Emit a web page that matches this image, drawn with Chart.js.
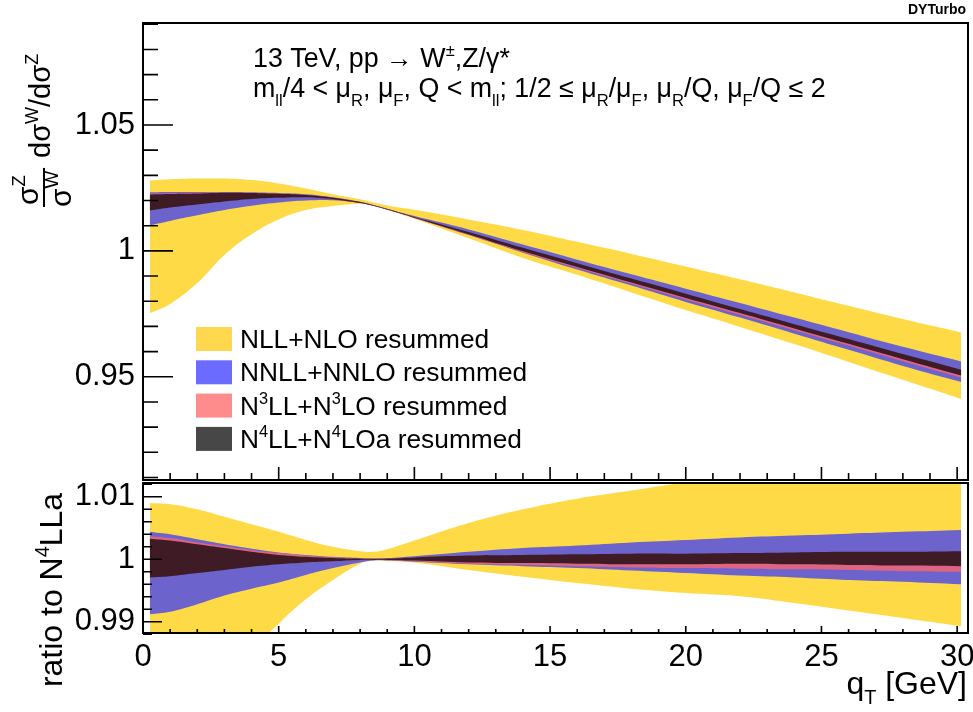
<!DOCTYPE html>
<html>
<head>
<meta charset="utf-8">
<script src="https://cdn.jsdelivr.net/npm/chart.js@4.4.1/dist/chart.umd.min.js"></script>
<style>
  html, body { margin: 0; padding: 0; background: #fff; }
  #wrap { position: relative; width: 973px; height: 712px; overflow: hidden; }
  #top { position: absolute; left: 0; top: 0; }
  #bot { position: absolute; left: 0; top: 480px; }
</style>
</head>
<body>
<div id="wrap">
  <canvas id="top" width="973" height="483"></canvas>
  <canvas id="bot" width="973" height="232"></canvas>
</div>
<script>
// ---- data ----
const qT = [0.25, 1, 2, 3, 4, 5, 6, 7, 8, 8.5, 9, 10, 12, 14, 16, 18, 20, 22, 24, 26, 28, 30.15];

// top panel: sigmaZ/sigmaW * dsigmaW/dsigmaZ, band edges
const nllHi  = [1.0279, 1.0284, 1.0287, 1.0287, 1.0281, 1.0268, 1.0248, 1.0225, 1.0205, 1.0192, 1.0180, 1.0163, 1.0125, 1.0083, 1.0036, 0.9988, 0.9938, 0.9887, 0.9835, 0.9782, 0.9729, 0.9676];
const nllLo  = [0.9752, 0.9789, 0.9872, 0.9984, 1.0066, 1.0125, 1.0162, 1.0178, 1.0187, 1.0180, 1.0162, 1.0128, 1.0050, 0.9972, 0.9905, 0.9835, 0.9765, 0.9698, 0.9630, 0.9559, 0.9488, 0.9412];
const nnllHi = [1.0233, 1.0234, 1.0234, 1.0234, 1.0233, 1.0230, 1.0225, 1.0213, 1.0195, 1.0182, 1.0167, 1.0138, 1.0085, 1.0025, 0.9965, 0.9907, 0.9850, 0.9793, 0.9735, 0.9677, 0.9619, 0.9561];
const nnllLo = [1.0102, 1.0119, 1.0141, 1.0162, 1.0179, 1.0192, 1.0200, 1.0201, 1.0190, 1.0178, 1.0163, 1.0131, 1.0063, 0.9993, 0.9926, 0.9862, 0.9797, 0.9735, 0.9671, 0.9607, 0.9543, 0.9479];
const n3llHi = [1.0227, 1.0229, 1.0231, 1.0232, 1.0231, 1.0228, 1.0222, 1.0211, 1.0194, 1.0181, 1.0166, 1.0134, 1.0072, 1.0008, 0.9946, 0.9885, 0.9824, 0.9763, 0.9703, 0.9643, 0.9583, 0.9520];
const n3llLo = [1.0165, 1.0175, 1.0186, 1.0197, 1.0207, 1.0212, 1.0213, 1.0205, 1.0190, 1.0179, 1.0164, 1.0131, 1.0064, 0.9995, 0.9932, 0.9869, 0.9807, 0.9746, 0.9685, 0.9624, 0.9562, 0.9497];
const n4llHi = [1.0224, 1.0226, 1.0228, 1.0231, 1.0230, 1.0227, 1.0222, 1.0211, 1.0194, 1.0181, 1.0166, 1.0135, 1.0075, 1.0012, 0.9951, 0.9890, 0.9830, 0.9769, 0.9709, 0.9650, 0.9590, 0.9528];
const n4llLo = [1.0160, 1.0172, 1.0184, 1.0196, 1.0206, 1.0211, 1.0213, 1.0205, 1.0190, 1.0179, 1.0164, 1.0132, 1.0066, 0.9998, 0.9936, 0.9874, 0.9813, 0.9753, 0.9692, 0.9631, 0.9570, 0.9505];

// bottom panel: ratio to N4LLa
const rNllHi  = [1.0090, 1.0088, 1.0080, 1.0068, 1.0056, 1.0044, 1.0031, 1.0020, 1.0013, 1.0012, 1.0016, 1.0030, 1.0058, 1.0080, 1.0097, 1.0110, 1.0123, 1.0132, 1.0140, 1.0148, 1.0157, 1.0167];
const rNllLo  = [0.9560, 0.9602, 0.9676, 0.9776, 0.9852, 0.9897, 0.9936, 0.9967, 0.9993, 0.9998, 0.9997, 0.9995, 0.9983, 0.9972, 0.9962, 0.9953, 0.9946, 0.9941, 0.9930, 0.9918, 0.9906, 0.9893];
const rNnllHi = [1.0044, 1.0040, 1.0032, 1.0024, 1.0017, 1.0011, 1.0007, 1.0004, 1.0002, 1.0001, 1.0002, 1.0005, 1.0012, 1.0018, 1.0022, 1.0027, 1.0031, 1.0035, 1.0038, 1.0041, 1.0044, 1.0047];
const rNnllLo = [0.9912, 0.9916, 0.9928, 0.9942, 0.9953, 0.9963, 0.9975, 0.9986, 0.9995, 0.9998, 0.9998, 0.9996, 0.9992, 0.9989, 0.9986, 0.9982, 0.9978, 0.9974, 0.9971, 0.9967, 0.9964, 0.9960];
const rN3llHi = [1.0037, 1.0034, 1.0027, 1.0021, 1.0015, 1.0010, 1.0006, 1.0003, 1.0001, 1.0001, 1.0001, 1.0002, 1.0004, 1.0005, 1.0006, 1.0006, 1.0007, 1.0007, 1.0008, 1.0008, 1.0009, 1.0009];
const rN3llLo = [0.9975, 0.9977, 0.9981, 0.9985, 0.9989, 0.9993, 0.9995, 0.9997, 0.9999, 0.9999, 0.9999, 0.9997, 0.9993, 0.9991, 0.9989, 0.9987, 0.9986, 0.9985, 0.9984, 0.9983, 0.9981, 0.9980];
const rN4llHi = [1.0033, 1.0030, 1.0024, 1.0018, 1.0012, 1.0007, 1.0004, 1.0002, 1.0001, 1.0001, 1.0001, 1.0003, 1.0006, 1.0007, 1.0008, 1.0009, 1.0009, 1.0010, 1.0011, 1.0012, 1.0012, 1.0013];
const rN4llLo = [0.9971, 0.9973, 0.9978, 0.9983, 0.9988, 0.9992, 0.9995, 0.9997, 0.9999, 0.9999, 0.9999, 0.9998, 0.9995, 0.9994, 0.9993, 0.9992, 0.9992, 0.9993, 0.9992, 0.9991, 0.9990, 0.9989];

const xTicks = [0, 5, 10, 15, 20, 25, 30];
const yTopTicks = [0.95, 1, 1.05];
const yBotTicks = [0.99, 1, 1.01];

const bandColors = ['#ffda47', '#6c63cc', '#de6484', '#3f1c25'];
const legendColors = ['#ffd84d', '#6b6bff', '#ff8c8c', '#474747'];
const legendLabels = [
  [['NLL+NLO resummed', 'n']],
  [['NNLL+NNLO resummed', 'n']],
  [['N', 'n'], ['3', '^'], ['LL+N', 'n'], ['3', '^'], ['LO resummed', 'n']],
  [['N', 'n'], ['4', '^'], ['LL+N', 'n'], ['4', '^'], ['LOa resummed', 'n']]
];

const FONT = '"Liberation Sans", Arial, Helvetica, sans-serif';

// ---- helpers ----
function drawRich(ctx, segs, x, y, size, align) {
  let w = 0;
  const parts = segs.map(([t, m]) => {
    const s = m === 'n' ? size : size * 0.62;
    ctx.font = s + 'px ' + FONT;
    const pw = ctx.measureText(t).width;
    w += pw;
    return { t, m, s, pw };
  });
  let cx = align === 'right' ? x - w : align === 'center' ? x - w / 2 : x;
  ctx.textAlign = 'left';
  ctx.textBaseline = 'alphabetic';
  for (const p of parts) {
    ctx.font = p.s + 'px ' + FONT;
    const dy = p.m === '^' ? -size * 0.42 : p.m === '_' ? size * 0.32 : 0;
    ctx.fillText(p.t, cx, y + dy);
    cx += p.pw;
  }
  return w;
}

function bandDatasets(bands) {
  const out = [];
  bands.forEach((b, k) => {
    const common = { borderWidth: 0, borderColor: 'transparent', pointRadius: 0, tension: 0.4, order: bands.length - k };
    out.push(Object.assign({ data: qT.map((q, i) => ({ x: q, y: b[0][i] })), fill: '+1', backgroundColor: bandColors[k] }, common));
    out.push(Object.assign({ data: qT.map((q, i) => ({ x: q, y: b[1][i] })), fill: false }, common));
  });
  return out;
}

// frame + inward ticks, ROOT style
function frameTicks(chart, o) {
  const { ctx, chartArea: a } = chart;
  const xs = chart.scales.x, ys = chart.scales.y;
  ctx.save();
  ctx.strokeStyle = '#000';
  ctx.lineWidth = 1.6;
  ctx.beginPath();
  for (let i = 0; i <= 30; i++) {
    const px = xs.getPixelForValue(i);
    const len = i % 5 === 0 ? o.xMaj : o.xMin;
    ctx.moveTo(px, a.bottom);
    ctx.lineTo(px, a.bottom - len);
  }
  for (let i = o.yFrom; i <= o.yTo; i++) {
    const v = i * o.yStep;
    const py = ys.getPixelForValue(v);
    const len = i % o.yMajEvery === 0 ? o.yMaj : o.yMin;
    ctx.moveTo(a.left, py);
    ctx.lineTo(a.left + len, py);
  }
  ctx.stroke();
  ctx.lineWidth = 2;
  ctx.strokeRect(a.left, a.top, a.right - a.left, a.bottom - a.top);
  ctx.restore();
}

const topDecor = {
  id: 'topDecor',
  afterDraw(chart) {
    const ctx = chart.ctx;
    frameTicks(chart, { xMaj: 13, xMin: 7, yFrom: 91, yTo: 109, yStep: 0.01, yMajEvery: 5, yMaj: 30, yMin: 15 });
    ctx.save();
    ctx.fillStyle = '#000';
    // header
    ctx.font = 'bold 14px ' + FONT;
    ctx.textAlign = 'right';
    ctx.fillText('DYTurbo', 966, 14);
    drawRich(ctx, [['13 TeV, pp \u2192 W', 'n'], ['\u00b1', '^'], [',Z/\u03b3*', 'n']], 253, 67, 26.8, 'left');
    drawRich(ctx, [
      ['m', 'n'], ['ll', '_'], ['/4 < \u03bc', 'n'], ['R', '_'], [', \u03bc', 'n'], ['F', '_'],
      [', Q < m', 'n'], ['ll', '_'], ['; 1/2 \u2264 \u03bc', 'n'], ['R', '_'], ['/\u03bc', 'n'], ['F', '_'],
      [', \u03bc', 'n'], ['R', '_'], ['/Q, \u03bc', 'n'], ['F', '_'], ['/Q \u2264 2', 'n']
    ], 253, 97, 26.8, 'left');
    // legend
    legendLabels.forEach((lab, i) => {
      const cy = 339 + i * 33.3;
      ctx.fillStyle = legendColors[i];
      ctx.fillRect(196, cy - 12, 36, 24);
      ctx.fillStyle = '#000';
      drawRich(ctx, lab, 240, cy + 9, 26.3, 'left');
    });
    // y title (rotated)
    ctx.translate(50, 207);
    ctx.rotate(-Math.PI / 2);
    const fs = 30;
    const wn = drawRich(ctx, [['\u03c3', 'n'], ['Z', '^']], 2, -12, fs, 'left');
    const wd = drawRich(ctx, [['\u03c3', 'n'], ['W', '^']], 0, 21, fs, 'left');
    const fw = Math.max(wn, wd) + 3;
    ctx.fillRect(0, -7, fw, 2);
    drawRich(ctx, [['d\u03c3', 'n'], ['W', '^'], ['/d\u03c3', 'n'], ['Z', '^']], fw + 10, 0, 29, 'left');
    ctx.restore();
  }
};

const botDecor = {
  id: 'botDecor',
  afterDraw(chart) {
    const ctx = chart.ctx;
    frameTicks(chart, { xMaj: 7, xMin: 4, yFrom: 494, yTo: 506, yStep: 0.002, yMajEvery: 5, yMaj: 19, yMin: 9 });
    ctx.save();
    ctx.fillStyle = '#000';
    drawRich(ctx, [['q', 'n'], ['T', '_'], [' [GeV]', 'n']], 967, 214, 32, 'right');
    ctx.translate(62, 110);
    ctx.rotate(-Math.PI / 2);
    drawRich(ctx, [['ratio to N', 'n'], ['4', '^'], ['LLa', 'n']], 0, 0, 32, 'center');
    ctx.restore();
  }
};

const tickFont = { family: FONT, size: 31 };

function yAxis(min, max, ticks) {
  return {
    type: 'linear', min, max,
    grid: { display: false, drawTicks: false }, border: { display: false },
    ticks: { font: tickFont, color: '#000', padding: 8, callback: v => String(v) },
    afterBuildTicks: s => { s.ticks = ticks.map(v => ({ value: v })); },
    afterFit: s => { s.width = 143; s.paddingTop = 0; s.paddingBottom = 0; }
  };
}

const common = {
  responsive: false, animation: false,
  plugins: { legend: { display: false }, tooltip: { enabled: false } }
};

new Chart(document.getElementById('top'), {
  type: 'line',
  data: { datasets: bandDatasets([[nllHi, nllLo], [nnllHi, nnllLo], [n3llHi, n3llLo], [n4llHi, n4llLo]]) },
  options: Object.assign({}, common, {
    layout: { padding: { left: 0, right: 5, top: 23, bottom: 3 } },
    scales: {
      x: { type: 'linear', min: 0, max: 30.4, display: false },
      y: yAxis(0.909, 1.0905, yTopTicks)
    }
  }),
  plugins: [topDecor]
});

new Chart(document.getElementById('bot'), {
  type: 'line',
  data: { datasets: bandDatasets([[rNllHi, rNllLo], [rNnllHi, rNnllLo], [rN3llHi, rN3llLo], [rN4llHi, rN4llLo]]) },
  options: Object.assign({}, common, {
    layout: { padding: { left: 0, right: 5, top: 3, bottom: 0 } },
    scales: {
      x: {
        type: 'linear', min: 0, max: 30.4,
        grid: { display: false, drawTicks: false }, border: { display: false },
        ticks: { font: tickFont, color: '#000', padding: 6, maxRotation: 0, callback: v => String(v) },
        afterBuildTicks: s => { s.ticks = xTicks.map(v => ({ value: v })); },
        afterFit: s => { s.height = 79; s.paddingLeft = 0; s.paddingRight = 0; }
      },
      y: yAxis(0.9882, 1.0122, yBotTicks)
    }
  }),
  plugins: [botDecor]
});
</script>
</body>
</html>
